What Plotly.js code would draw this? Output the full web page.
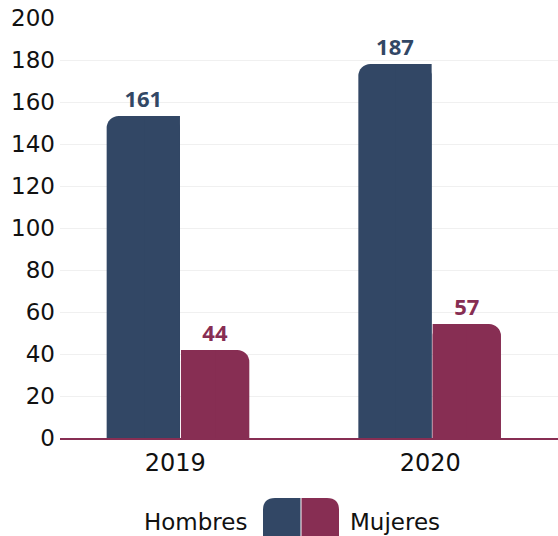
<!DOCTYPE html>
<html><head><meta charset="utf-8">
<script src="https://cdn.plot.ly/plotly-3.0.1.min.js"></script>
<style>html,body{margin:0;padding:0;background:#fff;}#chart{width:558px;height:536px;}</style>
</head><body><div id="chart"></div>
<script>
const categories = ['2019', '2020'];
const seriesNames = ['Hombres', 'Mujeres'];
const hombres = [161, 187];
const mujeres = [44, 57];
const yTicks = [0, 20, 40, 60, 80, 100, 120, 140, 160, 180, 200];

const colH = '#324765';
const colM = '#872e53';
const FONT = 'DejaVu Sans, sans-serif';
const BOLD = 'Open Sans, sans-serif';

// plot area geometry (px)
const L = 60, T = 18, W = 498, H = 420;
const px = x => (x - L) / W;
const py = y => (T + H - y) / H;

function barTrace(vals, color, offset, width, radius, withText) {
  return {
    type: 'bar', x: categories, y: vals, yaxis: 'y2',
    offset: offset, width: width,
    marker: {color: color, cornerradius: radius, line: {width: 0}},
    text: withText ? vals.map(String) : undefined,
    textposition: withText ? 'outside' : 'none',
    textfont: {family: BOLD, size: 22, color: color, weight: 700},
    cliponaxis: false, showlegend: false, hoverinfo: 'skip'
  };
}

const data = [
  // invisible anchor trace so the main (tick-label) axis is drawn
  {type: 'scatter', x: categories, y: [0, 0], yaxis: 'y', mode: 'none',
   showlegend: false, hoverinfo: 'skip'},
  barTrace(hombres, colH, [-0.269, -0.282], 0.2875, 12, true),
  barTrace(hombres, colH, [-0.1215, -0.1345], 0.14, 0, false),
  barTrace(mujeres, colM, [0.0224, 0.0094], 0.268, 12, true),
  barTrace(mujeres, colM, [0.0224, 0.0094], 0.134, 0, false)
];

function swatch(x0, x1, y0, y1, r, side, color) {
  let d;
  if (side === 'left') {
    d = `M ${px(x1)},${py(y1)} L ${px(x1)},${py(y0)} L ${px(x0 + r)},${py(y0)} Q ${px(x0)},${py(y0)} ${px(x0)},${py(y0 + r)} L ${px(x0)},${py(y1)} Z`;
  } else {
    d = `M ${px(x0)},${py(y1)} L ${px(x0)},${py(y0)} L ${px(x1 - r)},${py(y0)} Q ${px(x1)},${py(y0)} ${px(x1)},${py(y0 + r)} L ${px(x1)},${py(y1)} Z`;
  }
  return {type: 'path', xref: 'paper', yref: 'paper', path: d,
          fillcolor: color, line: {width: 0}, layer: 'above'};
}

const layout = {
  width: 558, height: 536,
  margin: {l: L, r: 0, t: T, b: 536 - T - H, pad: 0},
  paper_bgcolor: '#ffffff', plot_bgcolor: '#ffffff',
  barmode: 'overlay',
  showlegend: false,
  font: {family: FONT, color: '#111111', size: 22},
  xaxis: {
    type: 'category', range: [-0.452, 1.501],
    showgrid: false, showline: true, linecolor: colM, linewidth: 2,
    layer: 'below traces', ticks: '', tickfont: {family: FONT, size: 24, color: '#111111'},
    ticklabelstandoff: 2, fixedrange: true
  },
  yaxis: {
    range: [0, 200], tickvals: yTicks, ticktext: yTicks.map(String),
    showgrid: true, gridcolor: '#f0f0f0', gridwidth: 1,
    zeroline: false, showline: false, ticks: '',
    ticklabelstandoff: 4,
    tickfont: {family: FONT, size: 23, color: '#111111'}, fixedrange: true
  },
  yaxis2: {
    overlaying: 'y', range: [0, 210], visible: false, fixedrange: true
  },
  shapes: [
    swatch(263, 300.5, 498, 545, 12, 'left', colH),
    swatch(301.5, 339, 498, 545, 12, 'right', colM)
  ],
  annotations: [
    {xref: 'paper', yref: 'paper', x: px(249), y: py(522), xanchor: 'right', yanchor: 'middle',
     text: seriesNames[0], showarrow: false, font: {family: FONT, size: 23, color: '#111111'}},
    {xref: 'paper', yref: 'paper', x: px(348), y: py(522), xanchor: 'left', yanchor: 'middle',
     text: seriesNames[1], showarrow: false, font: {family: FONT, size: 23, color: '#111111'}}
  ]
};

Plotly.newPlot('chart', data, layout, {displayModeBar: false, staticPlot: true});
</script>
</body></html>
